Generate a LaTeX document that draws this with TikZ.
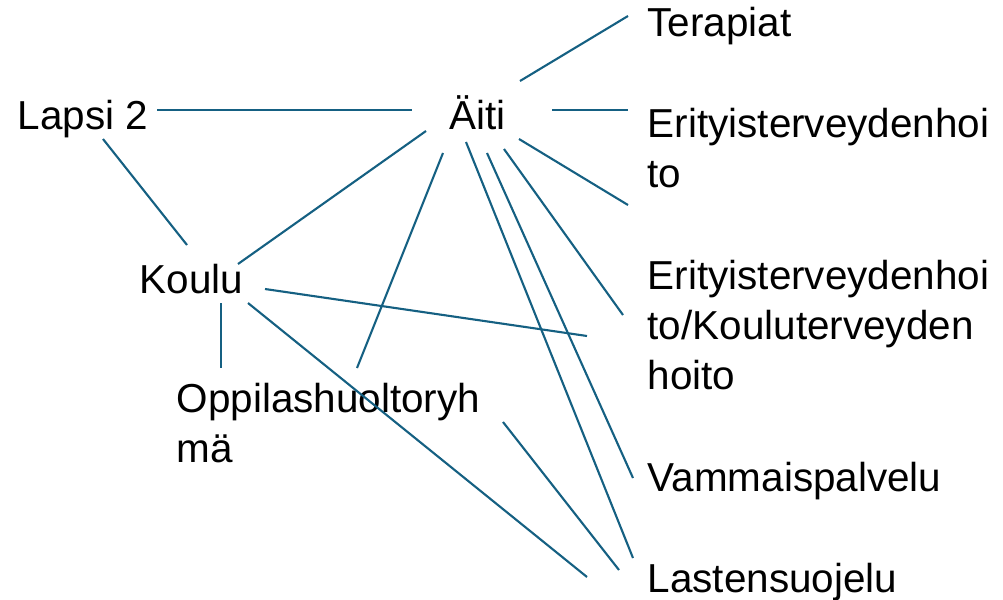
\documentclass[tikz,border=0pt]{standalone}
\usepackage{fontspec}
\setmainfont{Liberation Sans}
\definecolor{linkblue}{HTML}{156082}

\begin{document}
\begin{tikzpicture}[
    x=0.01cm, y=-0.01cm,
    lbl/.style={anchor=base west, inner sep=0pt, align=left, font=\fontsize{11.5}{14.2}\selectfont},
    link/.style={draw=linkblue, line width=0.6pt}
]
\useasboundingbox (0,0) rectangle (1003,600);

% === LABELS (multi-line ones placed by their last line) ===
\node[lbl] (lapsi) at (17,129) {Lapsi 2};
\node[lbl] (aiti) at (449,129) {Äiti};
\node[lbl] (koulu) at (139,293) {Koulu};
\node[lbl] (opp) at (176,462) {Oppilashuoltoryh\\mä};
\node[lbl] (terapiat) at (647,37) {Terapiat};
\node[lbl] (eri) at (647,187) {Erityisterveydenhoi\\to};
\node[lbl] (kth) at (647,389) {Erityisterveydenhoi\\to/Kouluterveyden\\hoito};
\node[lbl] (vam) at (647,491) {Vammaispalvelu};
\node[lbl] (las) at (647,592) {Lastensuojelu};

% === LINE ENDS ===
\coordinate (lapsi-e) at (157,110);
\coordinate (lapsi-s) at (103,139);
\coordinate (aiti-w) at (412,110);
\coordinate (aiti-ne) at (520,81);
\coordinate (aiti-e) at (552,110);
\coordinate (aiti-se) at (519,139);
\coordinate (aiti-s1) at (504,149);
\coordinate (aiti-s2) at (487,153);
\coordinate (aiti-s3) at (466,142);
\coordinate (aiti-s4) at (443,153);
\coordinate (aiti-sw) at (426,131);
\coordinate (koulu-nw) at (187,245);
\coordinate (koulu-ne) at (238,264);
\coordinate (koulu-e) at (265,289);
\coordinate (koulu-s) at (221,303);
\coordinate (koulu-se) at (248,303);
\coordinate (opp-nw) at (221,368);
\coordinate (opp-n) at (357,368);
\coordinate (opp-e) at (503,422);
\coordinate (ter-w) at (628,16);
\coordinate (eri-w) at (628,110);
\coordinate (eri-sw) at (628,205);
\coordinate (kth-w) at (623,315);
\coordinate (kth-sw) at (587,336);
\coordinate (vam-w) at (633,478);
\coordinate (las-n) at (633,558);
\coordinate (las-w) at (619,570);
\coordinate (las-nw) at (587,577);

% === LINKS ===
\draw[link] (lapsi-e) -- (aiti-w);
\draw[link] (lapsi-s) -- (koulu-nw);
\draw[link] (aiti-ne) -- (ter-w);
\draw[link] (aiti-e) -- (eri-w);
\draw[link] (aiti-se) -- (eri-sw);
\draw[link] (aiti-s1) -- (kth-w);
\draw[link] (aiti-s2) -- (vam-w);
\draw[link] (aiti-s3) -- (las-n);
\draw[link] (aiti-s4) -- (opp-n);
\draw[link] (aiti-sw) -- (koulu-ne);
\draw[link] (koulu-e) -- (kth-sw);
\draw[link] (koulu-s) -- (opp-nw);
\draw[link] (koulu-se) -- (las-nw);
\draw[link] (opp-e) -- (las-w);

\end{tikzpicture}
\end{document}
